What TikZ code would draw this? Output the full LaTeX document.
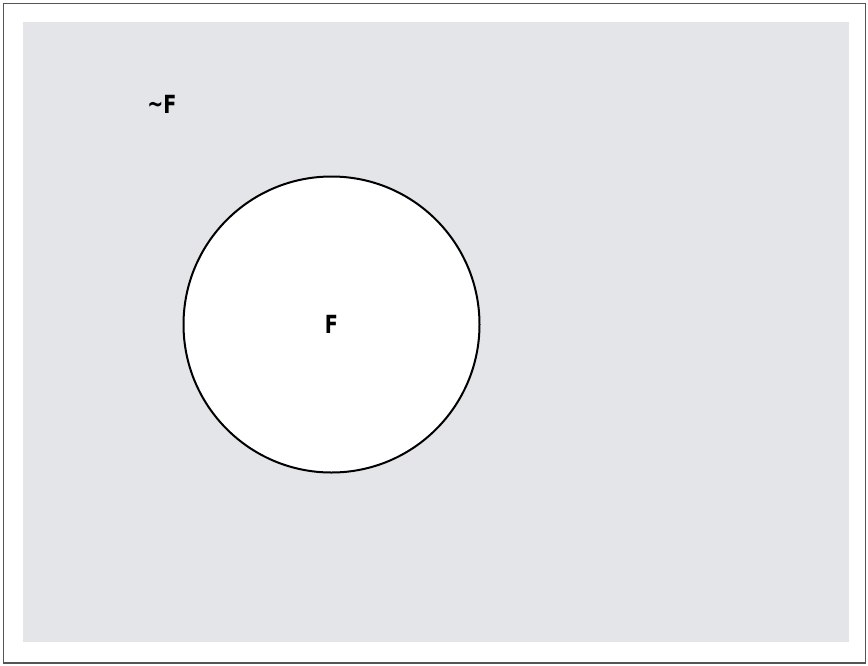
\documentclass[tikz,border=0pt]{standalone}
\usepackage{fontspec}
\setsansfont{DejaVu Sans Condensed}
\usepackage{xcolor}
\usepackage{tikz}
\usetikzlibrary{positioning}
\definecolor{framegray}{HTML}{555555}
\definecolor{universe}{HTML}{E3E5E8}

\begin{document}
\begin{tikzpicture}[x=1pt, y=-1pt,
  setlabel/.style={font=\sffamily\bfseries\fontsize{25}{27}\selectfont, inner sep=0pt, xscale=0.85}]
% page and frame
\useasboundingbox (0,0) rectangle (868,665);
\fill[white] (0,0) rectangle (868,665);
\draw[framegray, line width=1.3pt] (3.5,3.5) rectangle (865.5,663);
% universe of discourse
\fill[universe] (22.5,22) rectangle (849,642);
\node[setlabel] (notF) at (162,104) {\raisebox{0.5pt}{\char`\~}F};
% the set F
\node[draw, circle, fill=white, line width=2pt, minimum size=296pt, inner sep=0pt] (setF) at (331.5,324.5) {};
\node[setlabel] (F) at (setF.center) {F};
\end{tikzpicture}
\end{document}
